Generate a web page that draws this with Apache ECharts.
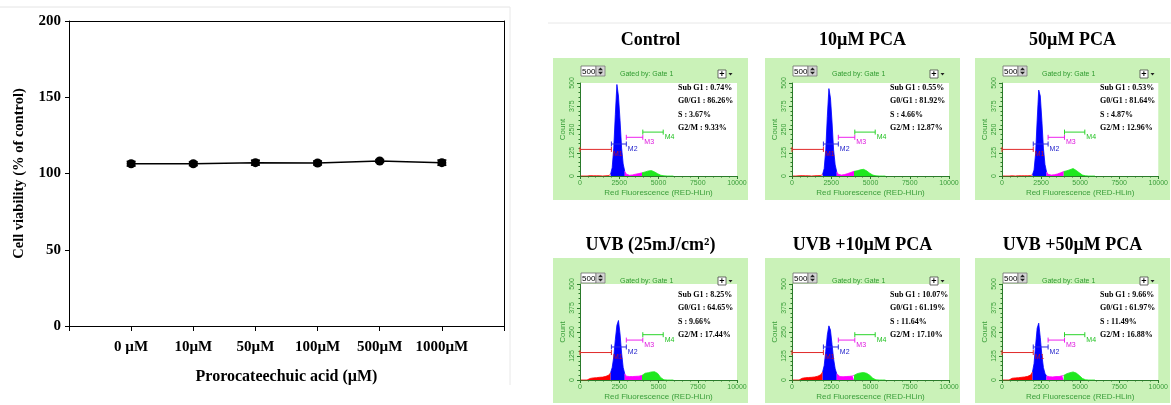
<!DOCTYPE html>
<html>
<head>
<meta charset="utf-8">
<script src="https://cdn.jsdelivr.net/npm/echarts@6/dist/echarts.min.js"></script>
<style>
  html, body { margin: 0; padding: 0; background: #ffffff; }
  #chart { width: 1171px; height: 405px; }
</style>
</head>
<body>
<div id="chart"></div>
<script>
// ---- Cell viability vs. protocatechuic acid dose ----
const doseLabels = ['0 µM', '10µM', '50µM', '100µM', '500µM', '1000µM'];
const viability = [106.4, 106.4, 107.1, 106.9, 108.2, 107.1];
const viabilityErr = [1.5, 1.2, 1.6, 1.3, 0.9, 1.7];

// ---- Cell-cycle histograms: counts per 100-unit bin of red fluorescence (0 - 6000) ----
const binWidth = 100;
const panelTitles = ['Control', '10µM PCA', '50µM PCA', 'UVB (25mJ/cm²)', 'UVB +10µM PCA', 'UVB +50µM PCA'];

const histControl = [
  0, 0, 0, 0, 0, 1, 2, 1, 1, 2, 1, 0, 1, 1, 0, 1, 1, 2, 3,
  10, 45, 150, 330, 492, 430, 300, 150, 65, 25, 10,
  5, 4, 5, 6, 8, 10, 12, 13, 15, 17,
  20, 22, 25, 27, 30, 29, 26, 22, 17, 12, 7, 4, 2,
  1, 0, 0, 0, 0, 0, 0
];
const hist10 = [
  0, 0, 0, 0, 1, 1, 2, 1, 1, 0, 1, 1, 0, 1, 1, 1, 2, 2, 3,
  9, 40, 140, 320, 470, 420, 290, 140, 60, 22, 9,
  5, 5, 6, 8, 10, 13, 16, 19, 22, 25,
  26, 28, 30, 33, 35, 36, 33, 28, 22, 15, 9, 5, 2,
  1, 0, 0, 0, 0, 0, 0
];
const hist50 = [
  0, 0, 0, 0, 0, 1, 1, 1, 0, 1, 1, 1, 1, 0, 1, 2, 1, 2, 3,
  7, 32, 120, 300, 462, 430, 300, 150, 62, 22, 9,
  5, 5, 6, 7, 9, 11, 14, 17, 20, 24,
  26, 28, 31, 34, 36, 40, 35, 30, 24, 17, 10, 5, 2,
  1, 0, 0, 0, 0, 0, 0
];
const histUVB = [
  0, 0, 0, 0, 0, 2,
  8, 10, 11, 12, 12, 13, 14, 14, 15, 17, 19, 22, 26,
  38, 65, 120, 210, 285, 310, 240, 140, 65, 32, 20,
  17, 18, 20, 18, 21, 19, 22, 20, 23, 24,
  32, 35, 37, 38, 40, 42, 44, 43, 40, 34, 24, 12, 4,
  1, 0, 0, 0, 0, 0, 0
];
const histUVB10 = [
  0, 0, 0, 0, 0,
  6, 9, 11, 12, 13, 13, 14, 14, 15, 16, 18, 20, 24, 28,
  42, 75, 150, 235, 282, 260, 185, 110, 58, 32, 22,
  18, 19, 17, 20, 18, 21, 19, 22, 21, 24,
  30, 33, 35, 37, 38, 39, 37, 35, 31, 25, 17, 9, 3,
  1, 0, 0, 0, 0, 0, 0
];
const histUVB50 = [
  0, 0, 0, 0, 0,
  5, 9, 10, 11, 12, 12, 13, 14, 15, 16, 17, 19, 23, 27,
  42, 85, 180, 270, 296, 220, 130, 65, 34, 21, 17,
  17, 18, 16, 19, 18, 20, 18, 21, 22, 24,
  30, 33, 36, 38, 40, 42, 40, 36, 30, 23, 15, 8, 3,
  1, 0, 0, 0, 0, 0, 0
];

const statsControl = ['Sub G1 : 0.74%', 'G0/G1 : 86.26%', 'S : 3.67%', 'G2/M : 9.33%'];
const stats10 = ['Sub G1 : 0.55%', 'G0/G1 : 81.92%', 'S : 4.66%', 'G2/M : 12.87%'];
const stats50 = ['Sub G1 : 0.53%', 'G0/G1 : 81.64%', 'S : 4.87%', 'G2/M : 12.96%'];
const statsUVB = ['Sub G1 : 8.25%', 'G0/G1 : 64.65%', 'S : 9.66%', 'G2/M : 17.44%'];
const statsUVB10 = ['Sub G1 : 10.07%', 'G0/G1 : 61.19%', 'S : 11.64%', 'G2/M : 17.10%'];
const statsUVB50 = ['Sub G1 : 9.66%', 'G0/G1 : 61.97%', 'S : 11.49%', 'G2/M : 16.88%'];

// Marker gates M1..M4 (fluorescence range and drawing height in counts)
const gateNames = ['M1', 'M2', 'M3', 'M4'];
const gateStart = [0, 2000, 2950, 4000];
const gateEnd = [2000, 2950, 4000, 5300];
const gateLevel = [143, 172, 208, 236];

// ---- styling ----
const serif = '"Liberation Serif", "Times New Roman", serif';
const sans = '"Liberation Sans", Arial, sans-serif';
const panelGreen = '#caf2b8';
const axisGreen = '#2a7a2a';
const labelGreen = '#3a9e3a';
const regionColors = ['#ff0000', '#0000ff', '#ff00ff', '#1fe81f'];
const gateColors = ['#e02a2a', '#2a2ae0', '#ee22ee', '#2ad42a'];
const gateTextColors = ['#c0102a', '#2222cc', '#dd11dd', '#22c222'];

const histograms = [histControl, hist10, hist50, histUVB, histUVB10, histUVB50];
const statLines = [statsControl, stats10, stats50, statsUVB, statsUVB10, statsUVB50];

// panel frames
const panelCols = [553, 765, 975];
const panelRows = [
  { y: 58, h: 142, plotTop: 83, plotH: 93, widgetTop: 66, titleY: 40 },
  { y: 258, h: 145, plotTop: 284, plotH: 96, widgetTop: 273, titleY: 245 }
];
const panelW = 195;
const plotW = 157;

const chart = echarts.init(document.getElementById('chart'));

const grids = [{ left: 69, top: 21, width: 435, height: 305 }];
const xAxes = [
  {
    gridIndex: 0, type: 'value', min: 0, max: 7, interval: 1,
    axisLine: { onZero: false, lineStyle: { color: '#000', width: 1 } },
    axisTick: { show: true, inside: false, length: 5, lineStyle: { color: '#000' } },
    splitLine: { show: false },
    axisLabel: {
      margin: 14, color: '#000', fontFamily: serif, fontWeight: 'bold', fontSize: 15,
      formatter: v => (v >= 1 && v <= doseLabels.length) ? doseLabels[v - 1] : ''
    },
    name: 'Prorocateechuic acid (µM)', nameLocation: 'middle', nameGap: 43,
    nameTextStyle: { color: '#000', fontFamily: serif, fontWeight: 'bold', fontSize: 16 }
  },
  {
    gridIndex: 0, type: 'value', min: 0, max: 7, position: 'top',
    axisLine: { show: true, onZero: false, lineStyle: { color: '#000', width: 1 } },
    axisTick: { show: false }, axisLabel: { show: false }, splitLine: { show: false }
  }
];
const yAxes = [
  {
    gridIndex: 0, type: 'value', min: 0, max: 200, interval: 50,
    axisLine: { show: true, onZero: false, lineStyle: { color: '#000', width: 1 } },
    axisTick: { show: true, inside: false, length: 4, lineStyle: { color: '#000' } },
    splitLine: { show: false },
    axisLabel: { margin: 8, color: '#000', fontFamily: serif, fontWeight: 'bold', fontSize: 15 },
    name: 'Cell viability (% of control)', nameLocation: 'middle', nameGap: 42,
    nameTextStyle: { color: '#000', fontFamily: serif, fontWeight: 'bold', fontSize: 14.5 }
  },
  {
    gridIndex: 0, type: 'value', min: 0, max: 200, position: 'right',
    axisLine: { show: true, onZero: false, lineStyle: { color: '#000', width: 1 } },
    axisTick: { show: false }, axisLabel: { show: false }, splitLine: { show: false }
  }
];

const series = [
  {
    type: 'line', xAxisIndex: 0, yAxisIndex: 0,
    data: viability.map((v, i) => [i + 1, v]),
    symbol: 'circle', symbolSize: 9,
    itemStyle: { color: '#000' },
    lineStyle: { color: '#000', width: 1.5 },
    silent: true, z: 3
  },
  {
    type: 'custom', xAxisIndex: 0, yAxisIndex: 0,
    data: viability.map((v, i) => [i + 1, v, viabilityErr[i]]),
    renderItem: (params, api) => {
      const x = api.value(0), y = api.value(1), e = api.value(2);
      const hi = api.coord([x, y + e]);
      const lo = api.coord([x, y - e]);
      const st = { stroke: '#000', lineWidth: 1.6 };
      return {
        type: 'group', children: [
          { type: 'line', shape: { x1: hi[0], y1: hi[1], x2: lo[0], y2: lo[1] }, style: st },
          { type: 'line', shape: { x1: hi[0] - 4.5, y1: hi[1], x2: hi[0] + 4.5, y2: hi[1] }, style: st },
          { type: 'line', shape: { x1: lo[0] - 4.5, y1: lo[1], x2: lo[0] + 4.5, y2: lo[1] }, style: st }
        ]
      };
    },
    silent: true, z: 4
  }
];

const graphics = [
  // thin borders around the two figure parts
  { type: 'line', shape: { x1: 0, y1: 7, x2: 510, y2: 7 }, style: { stroke: '#e4e4e4', lineWidth: 1 }, z: -20 },
  { type: 'line', shape: { x1: 510, y1: 7, x2: 510, y2: 385 }, style: { stroke: '#e8e8e8', lineWidth: 1 }, z: -20 },
  { type: 'line', shape: { x1: 548, y1: 23, x2: 1171, y2: 23 }, style: { stroke: '#e8e8e8', lineWidth: 1 }, z: -20 }
];

function regionOf(x) {
  let r = 0;
  for (let g = 0; g < gateStart.length; g++) if (x >= gateStart[g]) r = g;
  return r;
}

histograms.forEach((hist, k) => {
  const col = k % 3, row = Math.floor(k / 3);
  const R = panelRows[row];
  const gx = panelCols[col], gy = R.y;
  const px = gx + 27, py = R.plotTop;
  const gi = k + 1, ai = k + 2;

  grids.push({ left: px, top: py, width: plotW, height: R.plotH, show: true, backgroundColor: '#ffffff', borderWidth: 0 });

  xAxes.push({
    gridIndex: gi, type: 'value', min: 0, max: 10000, interval: 2500,
    axisLine: { onZero: false, lineStyle: { color: axisGreen, width: 1 } },
    axisTick: { show: true, inside: false, length: 3, lineStyle: { color: axisGreen } },
    minorTick: { show: true, splitNumber: 5, length: 1.5, lineStyle: { color: axisGreen } },
    splitLine: { show: false },
    axisLabel: { margin: 4, fontSize: 7, fontFamily: sans, color: labelGreen, formatter: v => String(v) },
    name: 'Red Fluorescence (RED-HLin)', nameLocation: 'middle', nameGap: 13,
    nameTextStyle: { fontSize: 8, fontFamily: sans, color: labelGreen }
  });
  yAxes.push({
    gridIndex: gi, type: 'value', min: 0, max: 500, interval: 125,
    axisLine: { show: true, onZero: false, lineStyle: { color: axisGreen, width: 1 } },
    axisTick: { show: true, inside: false, length: 3, lineStyle: { color: axisGreen } },
    minorTick: { show: true, splitNumber: 5, length: 1.5, lineStyle: { color: axisGreen } },
    splitLine: { show: false },
    axisLabel: { margin: 4, rotate: 90, fontSize: 7, fontFamily: sans, color: labelGreen, formatter: v => String(v) },
    name: 'Count', nameLocation: 'middle', nameGap: 13,
    nameTextStyle: { fontSize: 8, fontFamily: sans, color: labelGreen }
  });

  // histogram, filled per gate region
  const pts = hist.map((c, i) => [i * binWidth + binWidth / 2, c]);
  for (let r = 0; r < gateStart.length; r++) {
    const idx = [];
    pts.forEach((p, i) => { if (regionOf(p[0]) === r) idx.push(i); });
    if (!idx.length) continue;
    if (idx[0] > 0) idx.unshift(idx[0] - 1);
    series.push({
      type: 'line', xAxisIndex: ai, yAxisIndex: ai,
      data: idx.map(i => pts[i]),
      symbol: 'none', showSymbol: false, smooth: false,
      lineStyle: { color: regionColors[r], width: 0.8 },
      areaStyle: { color: regionColors[r], opacity: 1 },
      itemStyle: { color: regionColors[r] },
      silent: true, z: 2
    });
  }

  // gate markers
  series.push({
    type: 'custom', xAxisIndex: ai, yAxisIndex: ai,
    data: gateNames.map((n, g) => [gateStart[g], gateEnd[g], gateLevel[g], g]),
    encode: { x: [0, 1], y: 2 },
    renderItem: (params, api) => {
      const g = api.value(3);
      const a = api.coord([api.value(0), api.value(2)]);
      const b = api.coord([api.value(1), api.value(2)]);
      const st = { stroke: gateColors[g], lineWidth: 1 };
      return {
        type: 'group', children: [
          { type: 'line', shape: { x1: a[0], y1: a[1], x2: b[0], y2: b[1] }, style: st },
          { type: 'line', shape: { x1: a[0], y1: a[1] - 2.5, x2: a[0], y2: a[1] + 2.5 }, style: st },
          { type: 'line', shape: { x1: b[0], y1: b[1] - 2.5, x2: b[0], y2: b[1] + 2.5 }, style: st },
          {
            type: 'text', x: b[0] + 1.5, y: b[1] + 1.5,
            style: { text: gateNames[g], fill: gateTextColors[g], fontSize: 7, fontFamily: sans, align: 'left', verticalAlign: 'top', textAlign: 'left', textVerticalAlign: 'top' }
          }
        ]
      };
    },
    silent: true, z: 5
  });

  // panel background and labels
  graphics.push({ type: 'rect', shape: { x: gx, y: gy, width: panelW, height: R.h }, style: { fill: panelGreen }, z: -10 });
  graphics.push({
    type: 'text', x: gx + panelW / 2, y: R.titleY,
    style: { text: panelTitles[k], fontSize: 18, fontWeight: 'bold', fontFamily: serif, fill: '#000', align: 'center', verticalAlign: 'middle', textAlign: 'center', textVerticalAlign: 'middle' },
    z: 20
  });

  const wy = R.widgetTop;
  // count-range box with spinner
  graphics.push({ type: 'rect', shape: { x: px + 1, y: wy, width: 15, height: 10 }, style: { fill: '#ffffff', stroke: '#6a6a6a', lineWidth: 0.8 }, z: 20 });
  graphics.push({
    type: 'text', x: px + 2, y: wy + 5.5,
    style: { text: '500', fontSize: 8, fontFamily: sans, fill: '#000', align: 'left', verticalAlign: 'middle', textAlign: 'left', textVerticalAlign: 'middle' }, z: 21
  });
  graphics.push({ type: 'rect', shape: { x: px + 16, y: wy, width: 9, height: 10 }, style: { fill: '#d4d4d4', stroke: '#7a7a7a', lineWidth: 0.8 }, z: 20 });
  graphics.push({ type: 'polygon', shape: { points: [[px + 20.5, wy + 1.5], [px + 18, wy + 4.2], [px + 23, wy + 4.2]] }, style: { fill: '#222' }, z: 21 });
  graphics.push({ type: 'polygon', shape: { points: [[px + 18, wy + 5.8], [px + 23, wy + 5.8], [px + 20.5, wy + 8.5]] }, style: { fill: '#222' }, z: 21 });
  graphics.push({
    type: 'text', x: px + 40, y: wy + 8,
    style: { text: 'Gated by: Gate 1', fontSize: 7, fontFamily: sans, fill: '#2e9a2e', align: 'left', verticalAlign: 'middle', textAlign: 'left', textVerticalAlign: 'middle' }, z: 21
  });
  // gate toggle button
  graphics.push({ type: 'rect', shape: { x: gx + 165, y: wy + 4, width: 8, height: 8 }, style: { fill: '#ffffff', stroke: '#444', lineWidth: 0.8 }, z: 20 });
  graphics.push({
    type: 'text', x: gx + 169, y: wy + 8.3,
    style: { text: '+', fontSize: 9, fontWeight: 'bold', fontFamily: sans, fill: '#000', align: 'center', verticalAlign: 'middle', textAlign: 'center', textVerticalAlign: 'middle' }, z: 21
  });
  graphics.push({ type: 'polygon', shape: { points: [[gx + 175.5, wy + 7], [gx + 179.5, wy + 7], [gx + 177.5, wy + 9.5]] }, style: { fill: '#222' }, z: 21 });

  // cell-cycle fractions
  statLines[k].forEach((s, j) => {
    graphics.push({
      type: 'text', x: px + 98, y: wy + 22 + j * 13.3,
      style: { text: s, fontSize: 8, fontWeight: 'bold', fontFamily: serif, fill: '#000', align: 'left', verticalAlign: 'middle', textAlign: 'left', textVerticalAlign: 'middle' }, z: 21
    });
  });
});

chart.setOption({
  animation: false,
  backgroundColor: '#ffffff',
  grid: grids,
  xAxis: xAxes,
  yAxis: yAxes,
  series: series,
  graphic: { elements: graphics }
});
</script>
</body>
</html>
